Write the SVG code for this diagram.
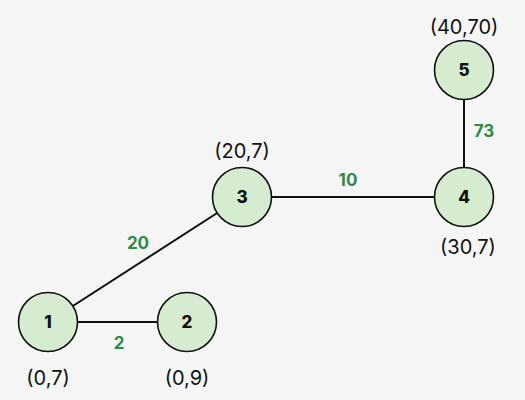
<svg xmlns="http://www.w3.org/2000/svg" width="525" height="400" viewBox="0 0 525 400">
<style>
.n circle{fill:#d5ecd0;stroke:#111;stroke-width:1.6}
.n text.k{font-family:"Inter","Liberation Sans",sans-serif;font-weight:800;font-size:17px;fill:#111;text-anchor:middle}
.n text.c{font-family:"Inter","Liberation Sans",sans-serif;font-weight:400;font-size:20px;fill:#111;text-anchor:middle}
.w{font-family:"Inter","Liberation Sans",sans-serif;font-weight:700;font-size:17px;fill:#2e8b45;text-anchor:middle}
#edges line{stroke:#111;stroke-width:2}
</style>
<rect width="525" height="400" fill="#f5f5f5"/>
<g id="edges">
<line x1="48" y1="322" x2="242" y2="197"/>
<line x1="48" y1="322" x2="187" y2="322"/>
<line x1="242" y1="197" x2="464" y2="197"/>
<line x1="464" y1="197" x2="464" y2="70"/>
</g>
<g id="n1" class="n"><circle cx="48" cy="322" r="29.5"/><text class="k" x="48" y="328">1</text><text class="c" x="48" y="385">(0,7)</text></g>
<g id="n2" class="n"><circle cx="187" cy="322" r="29.5"/><text class="k" x="187" y="328">2</text><text class="c" x="187" y="385">(0,9)</text></g>
<g id="n3" class="n"><circle cx="242" cy="197" r="29.5"/><text class="k" x="242" y="203">3</text><text class="c" x="242" y="158">(20,7)</text></g>
<g id="n4" class="n"><circle cx="464" cy="197" r="29.5"/><text class="k" x="464" y="203">4</text><text class="c" x="468" y="254">(30,7)</text></g>
<g id="n5" class="n"><circle cx="464" cy="70" r="29.5"/><text class="k" x="464" y="76">5</text><text class="c" x="464" y="34">(40,70)</text></g>
<g id="labels">
<text class="w" x="138" y="249">20</text>
<text class="w" x="119" y="349">2</text>
<text class="w" x="348" y="186">10</text>
<text class="w" x="484" y="137">73</text>
</g>
</svg>
